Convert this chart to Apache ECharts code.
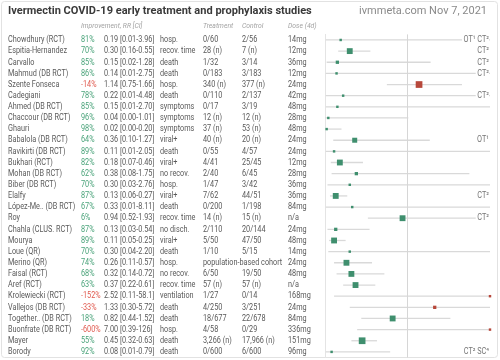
<!DOCTYPE html>
<html><head><meta charset="utf-8">
<script src="https://cdn.jsdelivr.net/npm/echarts@6/dist/echarts.min.js"></script>
<style>html,body{margin:0;padding:0;background:#fff}#c{width:500px;height:360px}</style>
</head><body><div id="c"></div>
<script>
const chartTitle = 'Ivermectin COVID-19 early treatment and prophylaxis studies';
const chartSource = 'ivmmeta.com Nov 7, 2021';
const headers = ['Improvement, RR [CI]', 'Treatment', 'Control', 'Dose (4d)'];
const studies = ['Chowdhury (RCT)','Espitia-Hernandez','Carvallo','Mahmud (DB RCT)','Szente Fonseca','Cadegiani','Ahmed (DB RCT)','Chaccour (DB RCT)','Ghauri','Babalola (DB RCT)','Ravikirti (DB RCT)','Bukhari (RCT)','Mohan (DB RCT)','Biber (DB RCT)','Elalfy','López-Me.. (DB RCT)','Roy','Chahla (CLUS. RCT)','Mourya','Loue (QR)','Merino (QR)','Faisal (RCT)','Aref (RCT)','Krolewiecki (RCT)','Vallejos (DB RCT)','Together.. (DB RCT)','Buonfrate (DB RCT)','Mayer','Borody'];
const improvement = [81,70,85,86,-14,78,85,96,98,64,89,82,62,70,87,67,6,87,89,70,74,68,63,-152,-33,18,-600,55,92];
const rr =     [0.19,0.30,0.15,0.14,1.14,0.22,0.15,0.04,0.02,0.36,0.11,0.18,0.38,0.30,0.13,0.33,0.94,0.13,0.11,0.30,0.26,0.32,0.37,2.52,1.33,0.82,7.00,0.45,0.08];
const ciLow =  [0.01,0.16,0.02,0.01,0.75,0.01,0.01,0.00,0.00,0.10,0.01,0.07,0.08,0.03,0.06,0.01,0.52,0.03,0.05,0.04,0.11,0.14,0.22,0.11,0.30,0.44,0.39,0.32,0.01];
const ciHigh = [3.96,0.55,1.28,2.75,1.66,4.48,2.70,1.01,0.20,1.27,2.05,0.46,1.75,2.76,0.27,8.11,1.93,0.54,0.25,2.20,0.57,0.72,0.61,58.1,5.72,1.52,126,0.63,0.79];
const outcome = ['hosp.','recov. time','death','death','hosp.','death','symptoms','symptoms','symptoms','viral+','death','viral+','no recov.','hosp.','viral+','death','recov. time','no disch.','viral+','death','hosp.','no recov.','recov. time','ventilation','death','death','hosp.','death','death'];
const treatment = ['0/60','28 (n)','1/32','0/183','340 (n)','0/110','0/17','12 (n)','37 (n)','40 (n)','0/55','4/41','2/40','1/47','7/62','0/200','14 (n)','2/110','5/50','1/10','population-based cohort','6/50','57 (n)','1/27','4/250','18/677','4/58','3,266 (n)','0/600'];
const control = ['2/56','7 (n)','3/14','3/183','377 (n)','2/137','3/19','12 (n)','53 (n)','20 (n)','4/57','25/45','6/45','3/42','44/51','1/198','15 (n)','20/144','47/50','5/15','','19/50','57 (n)','0/14','3/251','22/678','0/29','17,966 (n)','6/600'];
const dose = ['14mg','12mg','36mg','12mg','24mg','42mg','48mg','28mg','48mg','24mg','24mg','12mg','28mg','36mg','36mg','84mg','n/a','24mg','48mg','14mg','24mg','48mg','n/a','168mg','24mg','84mg','336mg','151mg','96mg'];
const notes = ['OT¹ CT²','CT²','CT²','CT²','','CT²','','','','OT¹','','','','','CT²','','CT²','','','','','','','','','','','','CT² SC⁴'];
// relative study weight (marker size indicator)
const weight = [1,5,2,1,6,1,1,1,1,4,1,5,2,1,5,1,5,2,5,1,5,5,5,1,2,5,1,6,1];

const GREEN = '#3f8f6e', RED = '#b7483b', TXT = '#5a5a5a';
const XMAX = 2;
const ROW_TOP = 34.4, ROW_H = 11.14;
const col = {name:8, imp:81, rr:104, out:160, tr:203, ct:242, dose:288, note:489};
const font = '9px Roboto';
const SX = 0.81;
function fmt(v){ return v>=100 ? v.toFixed(0) : (v>=10 ? v.toFixed(1) : v.toFixed(2)); }

const chart = echarts.init(document.getElementById('c'));
const forestData = studies.map((s,i)=>[Math.min(rr[i],XMAX), i, ciLow[i], Math.min(ciHigh[i],XMAX)]);
const textData = studies.map((s,i)=>[0, i]);
const hdr = (x, text) => ({type:'text', x, y:26, scaleX:0.85, style:{x:0, y:0, text, font:'italic 8px Roboto', fill:'#a3a3a3', verticalAlign:'middle'}});

chart.setOption({
  animation:false,
  backgroundColor:'#fff',
  grid:{left:325, right:10, top:ROW_TOP, height:ROW_H*studies.length},
  xAxis:{type:'value', min:0, max:XMAX, axisLabel:{show:false}, axisTick:{show:false}, axisLine:{show:false}, splitLine:{show:false}},
  yAxis:{type:'category', inverse:true, data:studies, axisLabel:{show:false}, axisTick:{show:false},
         axisLine:{show:true, lineStyle:{color:'#e4e4e4', width:1}}},
  graphic:[
    {type:'rect', shape:{x:1.5,y:1.5,width:496,height:356,r:3}, style:{fill:null, stroke:'#e2e2e2', lineWidth:1}, silent:true},
    {type:'text', x:8, y:11, scaleX:0.96, style:{x:0, y:0, text:chartTitle, font:'bold 11.5px Roboto', fill:'#3a3a3a', verticalAlign:'middle'}},
    {type:'text', x:487, y:11, style:{text:chartSource, font:'11px Roboto', fill:'#8a8a8a', align:'right', verticalAlign:'middle'}},
    hdr(col.imp, headers[0]), hdr(col.tr, headers[1]), hdr(col.ct, headers[2]), hdr(col.dose, headers[3])
  ],
  series:[
    {
      type:'line', data:[], silent:true,
      markLine:{silent:true, symbol:'none', label:{show:false}, lineStyle:{color:'#d6d6d6', width:1, type:'solid'}, data:[{xAxis:1}]}
    },
    {
      type:'custom', data:forestData, clip:false, z:2,
      encode:{x:0, y:1},
      renderItem(params, api){
        const i = api.value(1);
        const a = api.coord([api.value(2), i]);
        const b = api.coord([api.value(3), i]);
        const p = api.coord([api.value(0), i]);
        const neg = improvement[i] < 0;
        const s = 1.6 + weight[i]*0.85;
        return {type:'group', children:[
          {type:'line', shape:{x1:a[0], y1:a[1], x2:b[0], y2:b[1]}, style:{stroke:'#d9d9d9', lineWidth:1.3}},
          {type:'rect', shape:{x:p[0]-s/2, y:p[1]-s/2, width:s, height:s}, style:{fill: neg?RED:GREEN}}
        ]};
      }
    },
    {
      type:'custom', data:textData, clip:false, z:3,
      encode:{x:0, y:1},
      renderItem(params, api){
        const i = api.value(1);
        const y = api.coord([0, i])[1];
        const t = (x, text, extra) => ({type:'text', x, y, scaleX:SX, style:Object.assign({x:0, y:0, text, font, fill:TXT, verticalAlign:'middle', align:'left'}, extra||{})});
        const imp = improvement[i];
        const kids = [
          t(col.name, studies[i]),
          t(col.imp, imp+'%', {fill: imp<0 ? '#e05a4f' : '#4aa37a'}),
          t(col.rr, fmt(rr[i])+' ['+fmt(ciLow[i])+'-'+fmt(ciHigh[i])+']'),
          t(col.out, outcome[i]),
          t(col.tr, treatment[i]),
          t(col.ct, control[i]),
          t(col.dose, dose[i])
        ];
        if (notes[i]) kids.push(t(col.note, notes[i], {align:'right', fill:'#777', backgroundColor:'#fff', padding:[0,0,0,2]}));
        return {type:'group', children:kids};
      }
    }
  ]
});
</script></body></html>
